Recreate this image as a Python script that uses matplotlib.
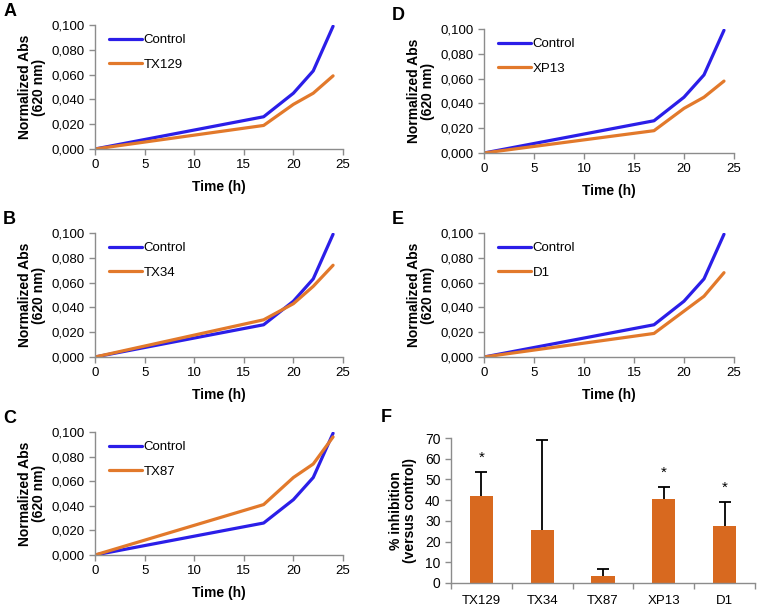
import matplotlib.pyplot as plt
import numpy as np

plt.rcParams['font.family'] = ['Liberation Sans', 'DejaVu Sans']

time_h = [0, 17, 20, 22, 24]
control = [0.000, 0.026, 0.045, 0.063, 0.099]
tx129 = [0.000, 0.019, 0.036, 0.045, 0.059]
tx34 = [0.000, 0.030, 0.043, 0.057, 0.074]
tx87 = [0.000, 0.041, 0.063, 0.074, 0.096]
xp13 = [0.000, 0.018, 0.036, 0.045, 0.058]
d1 = [0.000, 0.019, 0.037, 0.049, 0.068]

y_ticks = [0.0, 0.02, 0.04, 0.06, 0.08, 0.10]
y_ticklabels = ['0,000', '0,020', '0,040', '0,060', '0,080', '0,100']
x_ticks = [0, 5, 10, 15, 20, 25]

compounds = ['TX129', 'TX34', 'TX87', 'XP13', 'D1']
inhibition = [42.0, 25.5, 3.4, 40.5, 27.3]
inhibition_err = [11.5, 43.5, 3.3, 5.8, 11.7]
significant = [True, False, False, True, True]

BLUE = '#2b1ee8'
ORANGE = '#e2792b'
BAR = '#d8691f'
GREY = '#8c8c8c'

W, H = 758, 606
fig = plt.figure(figsize=(W / 100, H / 100), dpi=100)


def px_axes(left, right, bottom, top):
    return fig.add_axes([left / W, 1 - bottom / H, (right - left) / W, (bottom - top) / H])


def style(ax):
    for s in ['top', 'right']:
        ax.spines[s].set_visible(False)
    for s in ['left', 'bottom']:
        ax.spines[s].set_color(GREY)
        ax.spines[s].set_linewidth(1.0)
    ax.tick_params(which='both', color=GREY, length=4, width=1.0, labelsize=9.5, direction='out')


panels = [
    ('A', tx129, 'TX129', (95, 343, 149, 25)),
    ('B', tx34, 'TX34', (95, 343, 357, 233)),
    ('C', tx87, 'TX87', (95, 343, 555, 432)),
    ('D', xp13, 'XP13', (484, 734, 153, 29)),
    ('E', d1, 'D1', (484, 734, 357, 233)),
]

for letter, series, name, box in panels:
    ax = px_axes(*box)
    ax.plot(time_h, control, color=BLUE, lw=2.3, label='Control', solid_capstyle='round')
    ax.plot(time_h, series, color=ORANGE, lw=2.3, label=name, solid_capstyle='round')
    ax.set_xlim(0, 25)
    ax.set_ylim(0, 0.1)
    ax.set_xticks(x_ticks)
    ax.set_yticks(y_ticks)
    ax.set_yticklabels(y_ticklabels)
    style(ax)
    ax.set_xlabel('Time (h)', fontsize=10, fontweight='bold', labelpad=6)
    ax.set_ylabel('Normalized Abs\n(620 nm)', fontsize=10, fontweight='bold',
                  linespacing=1.0, labelpad=4)
    ax.legend(loc='upper left', frameon=False, fontsize=9.5, handlelength=2.5,
              handletextpad=0.1, labelspacing=0.9, borderaxespad=0.3,
              bbox_to_anchor=(0.02, 1.0))
    ax.text(-0.37, 1.18, letter, transform=ax.transAxes, fontsize=13,
            fontweight='bold', va='top', ha='left')

# panel F: bars with upper error bars only
axf = px_axes(451, 755, 583, 438)
x = np.arange(len(compounds))
tops = np.array(inhibition) + np.array(inhibition_err)
axf.bar(x, inhibition, width=0.38, color=BAR, zorder=2)
axf.vlines(x, inhibition, tops, color='black', lw=1.3, zorder=3)
axf.plot(x, tops, ls='none', marker='_', ms=9, mew=1.3, color='black', zorder=3)
for i, sig in enumerate(significant):
    if sig:
        axf.text(x[i], tops[i] + 3.5, '*', ha='center', va='bottom', fontsize=11)
axf.set_xlim(-0.5, len(compounds) - 0.5)
axf.set_ylim(0, 70)
axf.set_yticks(range(0, 71, 10))
axf.set_xticks(x)
axf.set_xticks(np.arange(-0.5, len(compounds), 1.0), minor=True)
axf.set_xticklabels(compounds)
style(axf)
axf.tick_params(axis='x', which='major', length=0, pad=9)
axf.tick_params(axis='y', labelsize=10)
axf.set_ylabel('% inhibition\n(versus control)', fontsize=10, fontweight='bold',
               linespacing=1.0, labelpad=6)
axf.text(-0.23, 1.2, 'F', transform=axf.transAxes, fontsize=13,
         fontweight='bold', va='top', ha='left')

fig.savefig('out.png', dpi=100)
